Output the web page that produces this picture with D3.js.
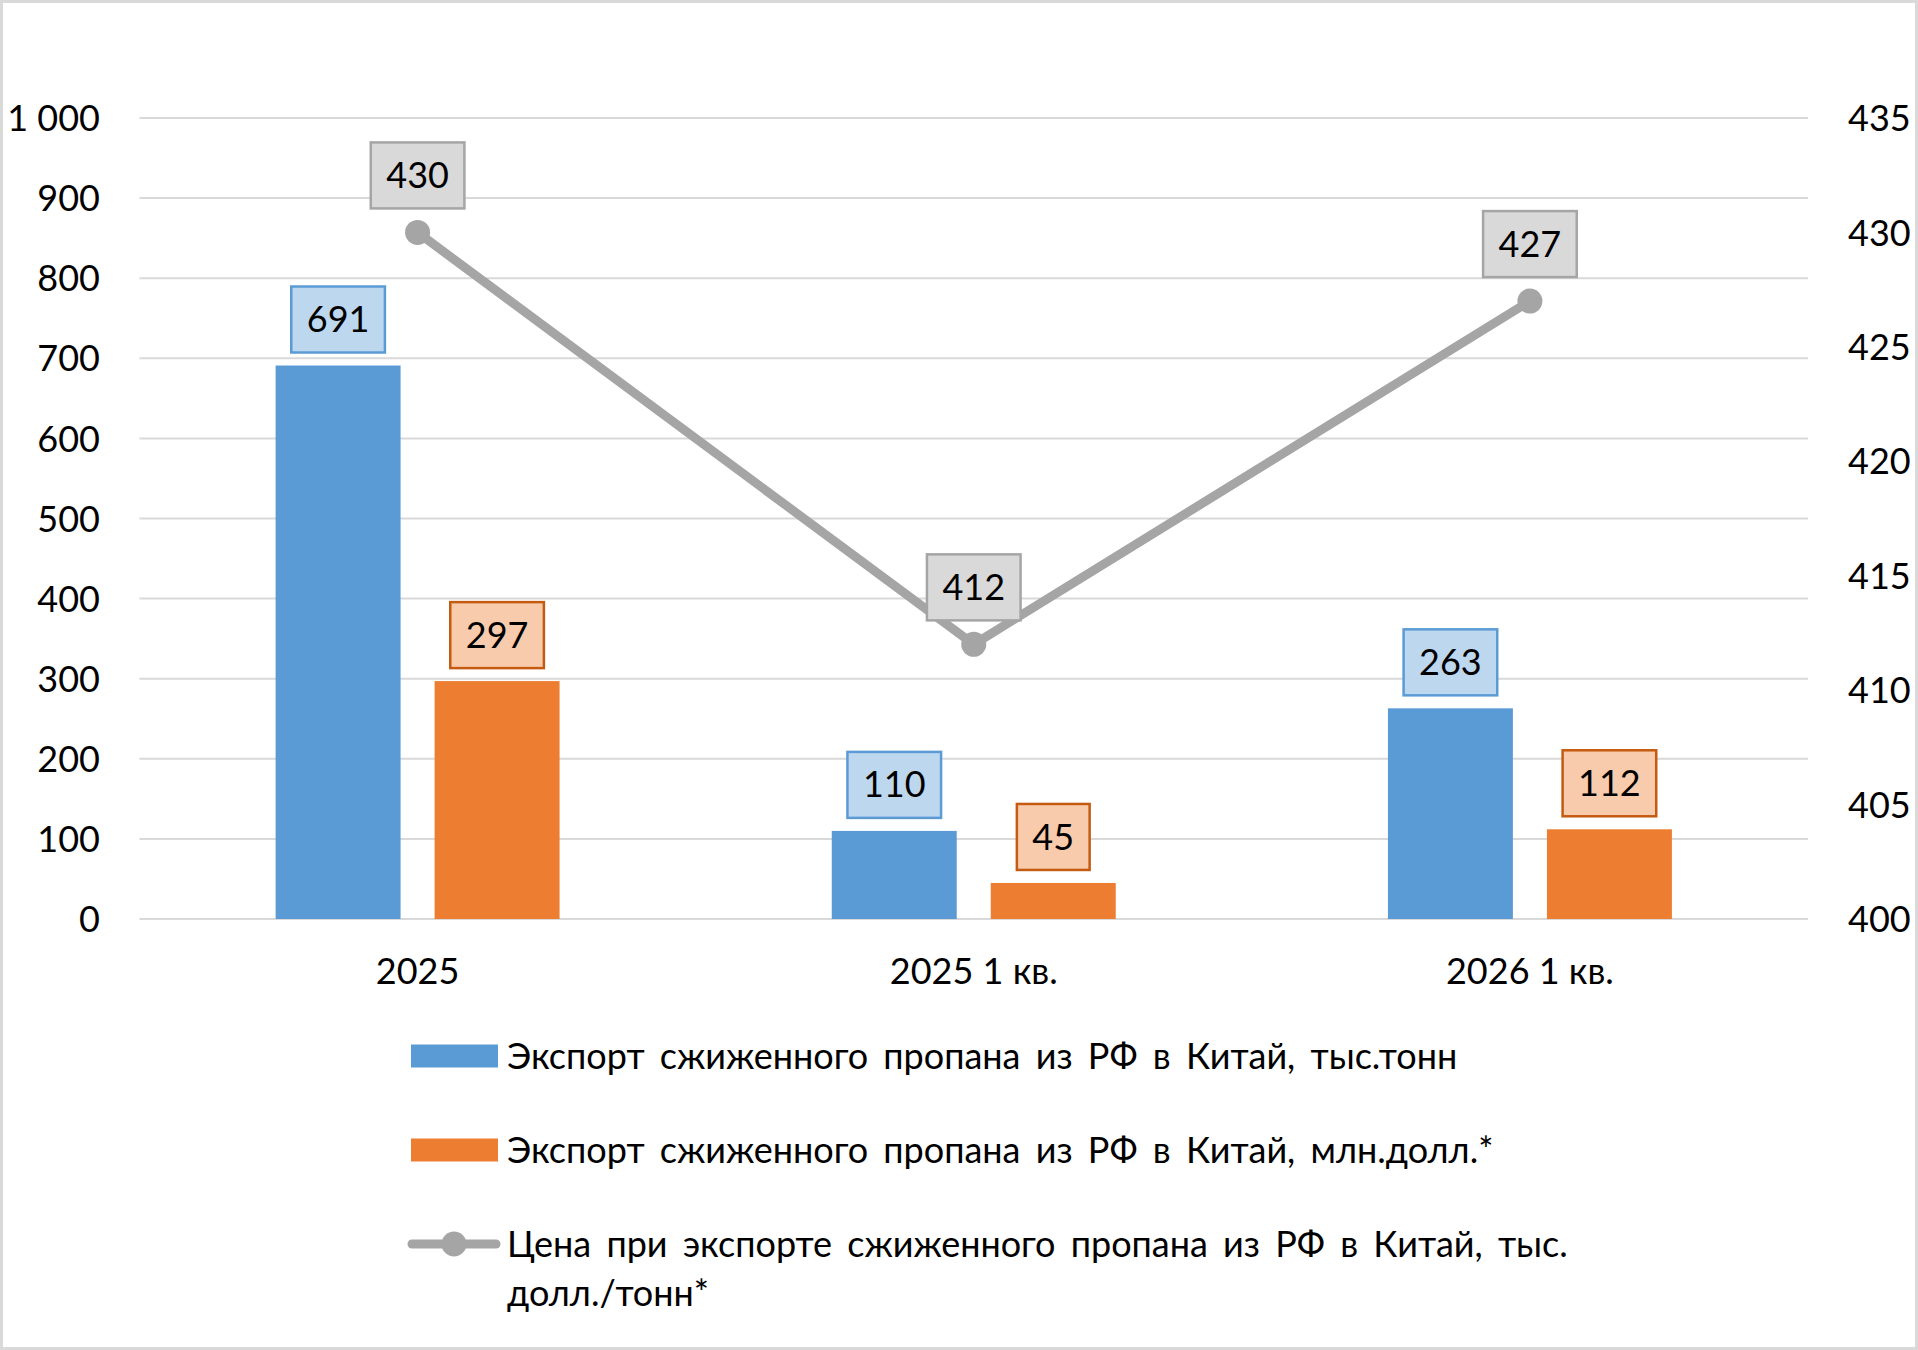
<!DOCTYPE html>
<html>
<head>
<meta charset="utf-8">
<script src="https://cdn.jsdelivr.net/npm/d3@7"></script>
<style>
  body { margin: 0; background: #fff; }
  text { font-family: Lato, "Open Sans", sans-serif; fill: #000; }
</style>
</head>
<body>
<div id="chart-area"></div>
<script>
// Data
var categories = ["2025", "2025 1 кв.", "2026 1 кв."];
var volumeTons = [691, 110, 263];     // тыс. тонн
var valueUsd = [297, 45, 112];        // млн. долл.
var priceUsd = [430, 412, 427];       // долл./тонн
var leftTicks = [0, 100, 200, 300, 400, 500, 600, 700, 800, 900, 1000];
var rightTicks = [400, 405, 410, 415, 420, 425, 430, 435];
var legendLabels = [
    "Экспорт сжиженного пропана из РФ в Китай, тыс.тонн",
    "Экспорт сжиженного пропана из РФ в Китай, млн.долл.*",
    ["Цена при экспорте сжиженного пропана из РФ в Китай, тыс.", "долл./тонн*"]
];

var W = 1918, H = 1350;
var plot = { left: 139.5, right: 1808, top: 118, bottom: 919 };
var fontSize = 36;

var colors = { blue: "#5B9BD5", orange: "#ED7D31", gray: "#A5A5A5", grid: "#D9D9D9" };

var svg = d3.select("#chart-area")
    .append("svg")
    .attr("width", W)
    .attr("height", H);

// outer border
svg.append("rect")
    .attr("x", 1.5).attr("y", 1.5)
    .attr("width", W - 3).attr("height", H - 3)
    .attr("fill", "#fff")
    .attr("stroke", colors.grid)
    .attr("stroke-width", 3);

// Scales
var x = d3.scaleBand().domain(categories).range([plot.left, plot.right]).padding(0);
var xSub = d3.scaleBand().domain([0, 1]).range([0, x.bandwidth()])
    .paddingInner(0.214).paddingOuter(0.856);
var y = d3.scaleLinear().domain([0, 1000]).range([plot.bottom, plot.top]);
var y2 = d3.scaleLinear().domain([400, 435]).range([plot.bottom, plot.top]);

// Gridlines
svg.append("g")
    .selectAll("line")
    .data(leftTicks)
    .enter().append("line")
    .attr("x1", plot.left).attr("x2", plot.right)
    .attr("y1", function(d){ return y(d); })
    .attr("y2", function(d){ return y(d); })
    .attr("stroke", colors.grid)
    .attr("stroke-width", 2);

// Left axis
var yAxisCall = d3.axisLeft(y)
    .tickValues(leftTicks)
    .tickSize(0)
    .tickPadding(0)
    .tickFormat(function(d){ return d3.format(",")(d).replace(/,/g, " "); });
var yAxis = svg.append("g")
    .attr("transform", "translate(100,0)")
    .call(yAxisCall);
yAxis.select(".domain").remove();
yAxis.selectAll("text")
    .attr("font-size", fontSize + "px")
    .attr("font-family", "Lato")
    .attr("fill", "#000")
    .attr("dy", "0.35em");

// Right axis
var y2AxisCall = d3.axisRight(y2)
    .tickValues(rightTicks)
    .tickSize(0)
    .tickPadding(0);
var y2Axis = svg.append("g")
    .attr("transform", "translate(1848,0)")
    .call(y2AxisCall);
y2Axis.select(".domain").remove();
y2Axis.selectAll("text")
    .attr("font-size", fontSize + "px")
    .attr("font-family", "Lato")
    .attr("fill", "#000")
    .attr("dy", "0.35em");

// X axis
var xAxisCall = d3.axisBottom(x).tickSize(0).tickPadding(0);
var xAxis = svg.append("g")
    .attr("transform", "translate(0," + 971 + ")")
    .call(xAxisCall);
xAxis.select(".domain").remove();
xAxis.selectAll("text")
    .attr("font-size", fontSize + "px")
    .attr("font-family", "Lato")
    .attr("fill", "#000")
    .attr("dy", "0.35em");

// Bars
var series = [
    { values: volumeTons, color: colors.blue, labelFill: "#BDD7EE", labelStroke: "#5B9BD5" },
    { values: valueUsd, color: colors.orange, labelFill: "#F8CBAD", labelStroke: "#C55A11" }
];

var labelsLayer = [];

series.forEach(function(s, si){
    svg.append("g")
        .selectAll("rect")
        .data(s.values)
        .enter().append("rect")
        .attr("x", function(d, i){ return x(categories[i]) + xSub(si); })
        .attr("width", xSub.bandwidth())
        .attr("y", function(d){ return y(d); })
        .attr("height", function(d){ return y(0) - y(d); })
        .attr("fill", s.color);

    s.values.forEach(function(d, i){
        labelsLayer.push({
            text: d,
            cx: x(categories[i]) + xSub(si) + xSub.bandwidth() / 2,
            bottom: y(d) - 13,
            fill: s.labelFill,
            stroke: s.labelStroke
        });
    });
});

// Line
var line = d3.line()
    .x(function(d, i){ return x(categories[i]) + x.bandwidth() / 2; })
    .y(function(d){ return y2(d); });

svg.append("path")
    .attr("d", line(priceUsd))
    .attr("fill", "none")
    .attr("stroke", colors.gray)
    .attr("stroke-width", 9)
    .attr("stroke-linejoin", "round");

svg.append("g")
    .selectAll("circle")
    .data(priceUsd)
    .enter().append("circle")
    .attr("cx", function(d, i){ return x(categories[i]) + x.bandwidth() / 2; })
    .attr("cy", function(d){ return y2(d); })
    .attr("r", 12.5)
    .attr("fill", colors.gray);

priceUsd.forEach(function(d, i){
    labelsLayer.push({
        text: d,
        cx: x(categories[i]) + x.bandwidth() / 2,
        bottom: y2(d) - 24,
        fill: "#D9D9D9",
        stroke: colors.gray
    });
});

// Data labels
labelsLayer.forEach(function(l){
    var g = svg.append("g");
    var box = g.append("rect");
    var t = g.append("text")
        .attr("x", l.cx)
        .attr("y", l.bottom - 33)
        .attr("dy", "0.35em")
        .attr("text-anchor", "middle")
        .attr("font-size", fontSize + "px")
        .text(l.text);
    var w = t.node().getComputedTextLength() + 31;
    box.attr("x", l.cx - w / 2)
        .attr("y", l.bottom - 66)
        .attr("width", w)
        .attr("height", 66)
        .attr("fill", l.fill)
        .attr("stroke", l.stroke)
        .attr("stroke-width", 2.5);
});

// Legend
var legendRows = [1056, 1150, 1244];
var legend = svg.append("g");

legend.append("rect")
    .attr("x", 411).attr("y", legendRows[0] - 11.5)
    .attr("width", 87).attr("height", 23)
    .attr("fill", colors.blue);
legend.append("rect")
    .attr("x", 411).attr("y", legendRows[1] - 11.5)
    .attr("width", 87).attr("height", 23)
    .attr("fill", colors.orange);
legend.append("line")
    .attr("x1", 412).attr("x2", 496)
    .attr("y1", legendRows[2]).attr("y2", legendRows[2])
    .attr("stroke", colors.gray)
    .attr("stroke-width", 9)
    .attr("stroke-linecap", "round");
legend.append("circle")
    .attr("cx", 454).attr("cy", legendRows[2])
    .attr("r", 12.5)
    .attr("fill", colors.gray);

legendLabels.forEach(function(lbl, i){
    var lines = Array.isArray(lbl) ? lbl : [lbl];
    var t = legend.append("text")
        .attr("x", 507)
        .attr("y", legendRows[i])
        .attr("font-size", fontSize + "px")
        .attr("word-spacing", "6px");
    lines.forEach(function(s, j){
        t.append("tspan")
            .attr("x", 507)
            .attr("y", legendRows[i] + j * 49)
            .attr("dy", "0.35em")
            .text(s);
    });
});
</script>
</body>
</html>
